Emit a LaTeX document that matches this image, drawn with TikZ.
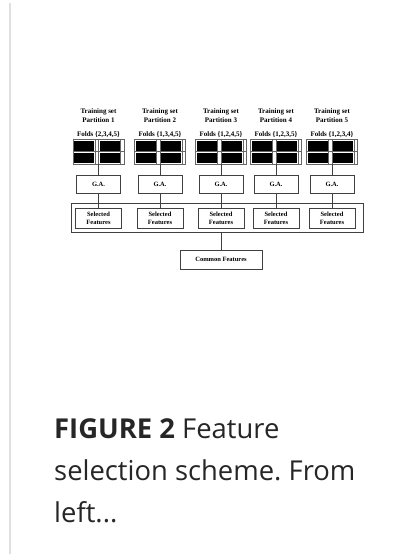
\documentclass[tikz,border=0pt]{standalone}
\usepackage{fontspec}
\setmainfont{Liberation Serif}
\newfontfamily\capfont{Open Sans}
\usetikzlibrary{positioning}

\tikzset{
    caja/.style={draw=black!75, line width=0.7pt, inner sep=0pt, align=center,
        font=\fontsize{6.5}{8}\selectfont\bfseries},
    titulo/.style={inner sep=0pt, align=center, font=\fontsize{7}{9}\selectfont\bfseries},
    pliegues/.style={draw=black!60, line width=0.6pt, minimum width=51pt, minimum height=25pt, inner sep=0pt},
    conector/.style={draw=black!75, line width=0.7pt}
}

\begin{document}
\begin{tikzpicture}[x=1pt,y=-1pt]
    \useasboundingbox (0,0) rectangle (414,554);

    % Borde izquierdo
    \draw[black!12, line width=2pt] (10,3) -- (10,554);

    % Caja que agrupa las caracteristicas seleccionadas
    \node[caja, minimum width=292pt, minimum height=29pt] (todas) at (217,217.5) {};

    % Columnas (una por particion)
    \foreach \i/\cx/\f in {1/98.5/{2,3,4,5},2/160/{1,3,4,5},3/221/{1,2,4,5},4/276/{1,2,3,5},5/332/{1,2,3,4}} {
        \node[titulo] (t\i) at (\cx,115.5) {Training set\\Partition \i};
        \node[titulo] (fl\i) at (\cx,135) {Folds \{\f\}};
        \node[pliegues] (f\i) at (\cx,151.5) {};
        \foreach \h in {0,25.5} {
            \foreach \r in {0,12.5}
                \fill[black] (\cx-24.5+\h,140.5+\r) rectangle ++(20,10);
            \draw[black!60, line width=0.5pt] (\cx-3.5+\h,139) -- (\cx-3.5+\h,164);
        }
        \draw[black!60, line width=0.6pt] (f\i.north) -- (f\i.south);
        \draw[black!60, line width=0.6pt] (f\i.west) -- (f\i.east);
        \node[caja, minimum width=44pt, minimum height=18pt] (ga\i) at (\cx,184.5) {G.A.};
        \node[caja, minimum width=46pt, minimum height=20pt] (s\i) at (\cx,218) {Selected\\Features};
        \draw[conector] (f\i) -- (ga\i);
        \draw[conector] (ga\i) -- (s\i);
    }

    % Caracteristicas comunes
    \node[caja, minimum width=82pt, minimum height=19pt] (comun) at (221,259.5) {Common Features};
    \draw[conector] (comun.north |- todas.south) -- (comun);

    % Pie de figura
    \node[anchor=base west, inner sep=0pt, align=left, text=black!85,
        font=\capfont\fontsize{27.4}{42}\selectfont\frenchspacing] (pie) at (54,522)
        {\textbf{FIGURE 2} Feature\\selection scheme. From\\left...};
\end{tikzpicture}
\end{document}
